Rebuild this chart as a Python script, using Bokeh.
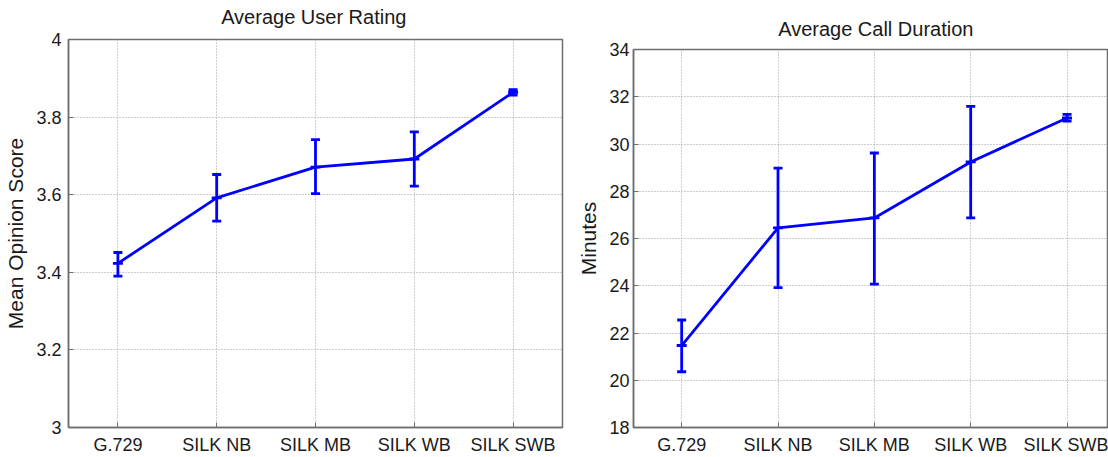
from bokeh.plotting import figure
from bokeh.models import (ColumnDataSource, Whisker, TeeHead, FixedTicker,
                          CustomJSTickFormatter)
from bokeh.core.properties import value
from bokeh.layouts import row, column
from bokeh.embed import file_html
from bokeh.resources import INLINE

# Codecs compared
codecs = ["G.729", "SILK NB", "SILK MB", "SILK WB", "SILK SWB"]

# Mean opinion score with confidence bounds
mos_mean = [3.423, 3.592, 3.671, 3.692, 3.864]
mos_low = [3.390, 3.532, 3.603, 3.622, 3.857]
mos_high = [3.451, 3.652, 3.742, 3.762, 3.871]

# Call duration in minutes with confidence bounds
dur_mean = [21.47, 26.45, 26.87, 29.24, 31.10]
dur_low = [20.36, 23.92, 24.07, 26.87, 30.97]
dur_high = [22.55, 28.98, 29.62, 31.59, 31.25]

mos_ticks = [3.0, 3.2, 3.4, 3.6, 3.8, 4.0]
dur_ticks = [18, 20, 22, 24, 26, 28, 30, 32, 34]

titles = ["Average User Rating", "Average Call Duration"]
ylabels = ["Mean Opinion Score", "Minutes"]

FONT = "Liberation Sans"
BLUE = "#0000ff"
FRAME = "#6e6e6e"
GRID = "#9a9a9a"
TXT = "#1a1a1a"

num_fmt = CustomJSTickFormatter(code="return String(tick);")


def heading(text, width, height, cx, cy):
    """A thin strip holding a centred heading; coordinates are pixels."""
    h = figure(width=width, height=height, output_backend="svg",
               toolbar_location=None, x_range=(0, width), y_range=(0, height),
               x_axis_location=None, y_axis_location=None, min_border=0,
               background_fill_color="white", border_fill_color="white")
    h.outline_line_color = None
    h.xgrid.visible = False
    h.ygrid.visible = False
    h.text(x=[cx], y=[height - cy], text=[text], text_align="center",
           text_baseline="middle", text_font=value(FONT),
           text_font_size="20px", text_color=TXT)
    return h


def make_panel(ylabel, mean, low, high, yticks, x_end, width, height,
               border_left, border_right, border_top, label_standoff,
               tick_standoff):
    xs = list(range(1, len(codecs) + 1))
    p = figure(width=width, height=height, output_backend="svg",
               toolbar_location=None, x_range=(0.5, x_end),
               y_range=(yticks[0], yticks[-1]),
               min_border_left=border_left, min_border_right=border_right,
               min_border_top=border_top, min_border_bottom=29,
               background_fill_color="white", border_fill_color="white")

    p.outline_line_color = FRAME
    p.outline_line_width = 1.5

    xa = p.xaxis[0]
    xa.ticker = FixedTicker(ticks=xs)
    xa.major_label_overrides = {i: c for i, c in zip(xs, codecs)}
    ya = p.yaxis[0]
    ya.ticker = FixedTicker(ticks=yticks)
    ya.formatter = num_fmt
    ya.axis_label = ylabel
    ya.axis_label_text_font = FONT
    ya.axis_label_text_font_size = "21px"
    ya.axis_label_text_font_style = "normal"
    ya.axis_label_text_color = TXT
    ya.axis_label_standoff = label_standoff
    ya.major_label_standoff = tick_standoff
    xa.major_label_standoff = 7

    for ax in (xa, ya):
        ax.major_label_text_font = FONT
        ax.major_label_text_font_size = "18px"
        ax.major_label_text_color = TXT
        ax.axis_line_color = FRAME
        ax.axis_line_width = 1.5
        ax.major_tick_in = 5
        ax.major_tick_out = 0
        ax.major_tick_line_color = FRAME
        ax.minor_tick_line_color = None

    for g in (p.xgrid[0], p.ygrid[0]):
        g.grid_line_color = GRID
        g.grid_line_dash = "1 2"
        g.grid_line_width = 1

    src = ColumnDataSource(dict(x=xs, mean=mean, low=low, high=high))
    p.line("x", "mean", source=src, line_color=BLUE, line_width=2.8)
    p.add_layout(Whisker(source=src, base="x", lower="low", upper="high",
                         dimension="height", line_color=BLUE, line_width=2.8,
                         upper_head=TeeHead(size=9, line_color=BLUE, line_width=2.8),
                         lower_head=TeeHead(size=9, line_color=BLUE, line_width=2.8)))
    p.scatter("x", "mean", source=src, marker="dash", size=10,
              line_color=BLUE, line_width=2.8)
    return p


# left panel: frame spans x 68..562, y 39..428
h1 = heading(titles[0], 572, 30, cx=284, cy=16)
p1 = make_panel(ylabels[0], mos_mean, mos_low, mos_high, mos_ticks,
                x_end=5.5, width=572, height=427, border_left=68,
                border_right=10, border_top=9, label_standoff=6,
                tick_standoff=7)

# right panel: frame spans x 633..1107, y 49..428
h2 = heading(titles[1], 536, 40, cx=274, cy=28)
p2 = make_panel(ylabels[1], dur_mean, dur_low, dur_high, dur_ticks,
                x_end=5.42, width=536, height=417, border_left=61,
                border_right=1, border_top=9, label_standoff=6,
                tick_standoff=4)

layout = row(column(h1, p1, spacing=0), column(h2, p2, spacing=0), spacing=0)

open("out.html", "w").write(file_html(layout, INLINE))
